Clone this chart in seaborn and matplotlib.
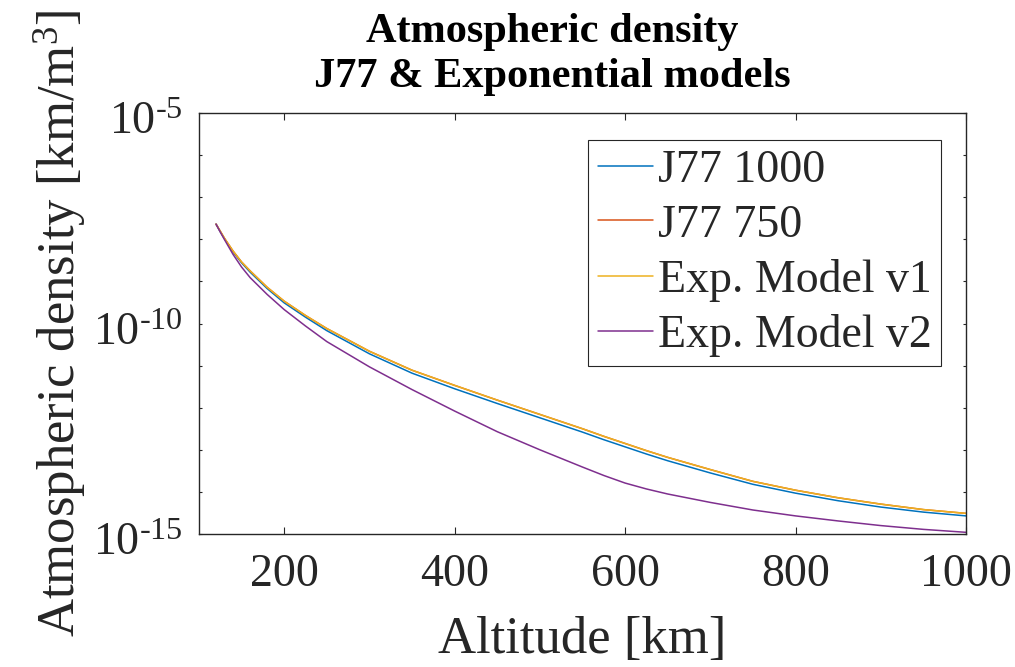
import numpy as np
import pandas as pd
import matplotlib
matplotlib.use("Agg")
import matplotlib.pyplot as plt
import matplotlib.ticker as mticker
import matplotlib.transforms as mtransforms
import seaborn as sns

# ---- data (log10 of density) ----
altitude = [120, 125, 130, 140, 150, 160, 180, 200, 225, 250, 300, 350, 400,
            450, 500, 550, 575, 600, 625, 650, 700, 750, 800, 850, 900, 950, 1000]
log_j77_1000 = [-7.64, -7.82, -7.99, -8.30, -8.56, -8.78, -9.17, -9.51, -9.85,
                -10.17, -10.72, -11.18, -11.55, -11.90, -12.24, -12.58, -12.76,
                -12.93, -13.10, -13.26, -13.55, -13.82, -14.03, -14.21, -14.36,
                -14.48, -14.57]
log_j77_750 = [-7.64, -7.81, -7.98, -8.28, -8.54, -8.75, -9.14, -9.47, -9.81,
               -10.12, -10.66, -11.11, -11.47, -11.82, -12.16, -12.50, -12.68,
               -12.85, -13.02, -13.18, -13.47, -13.75, -13.96, -14.14, -14.29,
               -14.42, -14.51]
log_exp_v1 = [-7.64, -7.81, -7.98, -8.28, -8.54, -8.75, -9.14, -9.47, -9.81,
              -10.12, -10.66, -11.11, -11.47, -11.82, -12.16, -12.50, -12.68,
              -12.85, -13.02, -13.18, -13.47, -13.75, -13.96, -14.14, -14.29,
              -14.42, -14.51]
log_exp_v2 = [-7.64, -7.83, -8.01, -8.36, -8.66, -8.91, -9.31, -9.67, -10.06,
              -10.43, -11.03, -11.57, -12.08, -12.57, -13.00, -13.41, -13.61,
              -13.79, -13.93, -14.05, -14.25, -14.43, -14.57, -14.69, -14.80,
              -14.89, -14.96]
series_names = ["J77 1000", "J77 750", "Exp. Model v1", "Exp. Model v2"]
series_colors = ["#0072BD", "#D95319", "#EDB120", "#7E2F8E"]
ytick_exponents = [-15, -10, -5]
title_lines = ["Atmospheric density", "J77 & Exponential models"]

sns.set_theme(style="white")
plt.rcParams["font.family"] = ["Liberation Serif", "DejaVu Serif"]
plt.rcParams["mathtext.fontset"] = "custom"
plt.rcParams["mathtext.rm"] = "Liberation Serif"
plt.rcParams["mathtext.it"] = "Liberation Serif:italic"
plt.rcParams["mathtext.bf"] = "Liberation Serif:bold"

frames = []
for name, vals in zip(series_names, [log_j77_1000, log_j77_750, log_exp_v1, log_exp_v2]):
    frames.append(pd.DataFrame({"Altitude": altitude,
                                "Density": np.power(10.0, vals),
                                "Model": name}))
df = pd.concat(frames, ignore_index=True)

W, H = 1015, 667
fig = plt.figure(figsize=(W / 100, H / 100), dpi=100)
ax = fig.add_axes([199 / W, 1 - 534 / H, (966 - 199) / W, (534 - 113) / H])

sns.lineplot(data=df, x="Altitude", y="Density", hue="Model",
             hue_order=series_names, palette=series_colors,
             estimator=None, sort=False, linewidth=1.1, ax=ax)

ax.set_yscale("log")
ax.set_xlim(100, 1000)
ax.set_ylim(1e-15, 1e-5)

ax.xaxis.set_major_locator(mticker.FixedLocator([200, 400, 600, 800, 1000]))
ax.yaxis.set_major_locator(mticker.FixedLocator([10.0 ** e for e in range(-15, -4)]))
ax.yaxis.set_minor_locator(mticker.NullLocator())

HYPHEN = "\u2010"

def yfmt(v, pos):
    e = int(round(np.log10(v)))
    if e in ytick_exponents:
        return "$\\mathregular{10^{" + HYPHEN + str(-e) + "}}$"
    return ""
ax.yaxis.set_major_formatter(mticker.FuncFormatter(yfmt))

spine_c = "#262626"
for s in ax.spines.values():
    s.set_visible(True)
    s.set_color(spine_c)
    s.set_linewidth(1.0)

ax.tick_params(axis="x", which="major", direction="in", length=5, width=0.8,
               top=True, bottom=True, labelsize=33, colors=spine_c, pad=14)
ax.tick_params(axis="y", which="major", direction="in", length=2.5, width=0.8,
               left=True, right=True, labelsize=33, colors=spine_c, pad=12)

# nudge y tick labels slightly down (MATLAB-like placement)
shift = mtransforms.ScaledTranslation(0, -5 / 100, fig.dpi_scale_trans)
for t in ax.yaxis.get_major_ticks():
    t.label1.set_transform(t.label1.get_transform() + shift)

ax.set_xlabel("Altitude [km]", fontsize=38, color=spine_c)
ax.xaxis.set_label_coords(0.5, (534 - 616) / 421)
ax.set_ylabel(r"Atmospheric density [km/m$^\mathregular{3}$]", fontsize=38,
              color=spine_c)
ax.yaxis.set_label_coords((89 - 199) / 767, 0.5)

for txt, yb in zip(title_lines, [42, 87]):
    fig.text(552 / W, 1 - yb / H, txt, ha="center", va="baseline",
             fontsize=30.5, fontweight="bold", color="black")

leg = ax.legend(loc="upper right", fontsize=33, frameon=True, fancybox=False,
                framealpha=1, edgecolor=spine_c,
                bbox_to_anchor=(1 - 25 / 767, 1 - 27 / 421),
                borderaxespad=0.0,
                handlelength=1.2, handletextpad=0.12, labelspacing=0.27,
                borderpad=0.2)
leg.get_frame().set_linewidth(0.8)
for line in leg.get_lines():
    line.set_linewidth(1.1)

fig.savefig("out.png", dpi=100)
